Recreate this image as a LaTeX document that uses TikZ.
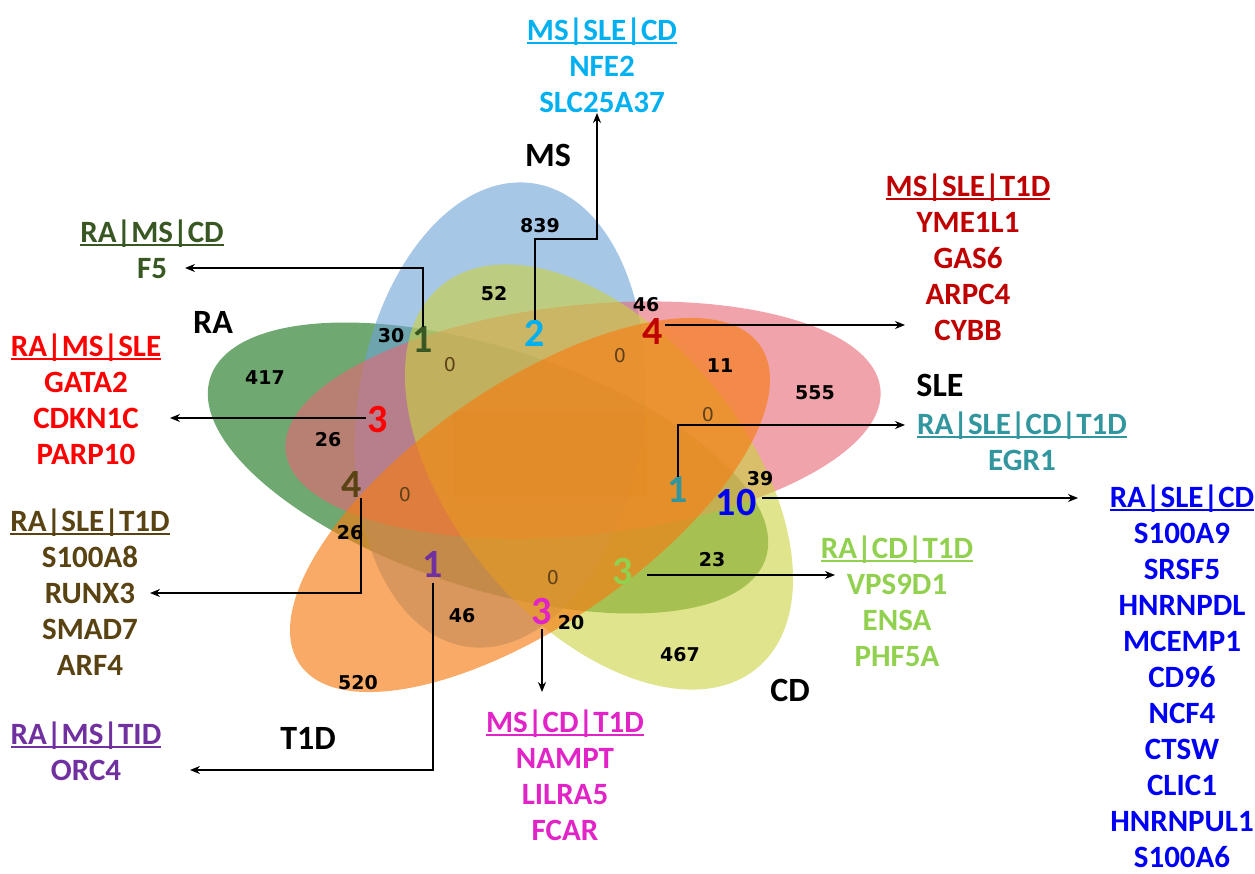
\documentclass[tikz,border=0pt]{standalone}
\usepackage{fontspec}
\setmainfont{Carlito}
\newfontfamily\cntfont{DejaVu Sans}
\usetikzlibrary{arrows.meta}

% set colours (fills) and text colours
\definecolor{raC}{RGB}{15,110,17}
\definecolor{msC}{RGB}{108,162,213}
\definecolor{sleC}{RGB}{232,102,117}
\definecolor{cdC}{RGB}{203,210,63}
\definecolor{t1dC}{RGB}{245,125,20}
\definecolor{coreC}{RGB}{232,132,20}
\definecolor{cyanC}{RGB}{0,176,240}
\definecolor{dredC}{RGB}{192,0,0}
\definecolor{dgreenC}{RGB}{56,87,35}
\definecolor{redC}{RGB}{255,0,0}
\definecolor{tealC}{RGB}{49,150,158}
\definecolor{blueC}{RGB}{0,0,245}
\definecolor{lgreenC}{RGB}{146,208,80}
\definecolor{brownC}{RGB}{89,67,18}
\definecolor{purpleC}{RGB}{112,48,160}
\definecolor{magentaC}{RGB}{225,35,200}
\definecolor{zeroC}{RGB}{95,65,25}

% underlined group heading with a fixed strut height
\newcommand\hdr[1]{\setbox0\hbox{#1}\rlap{\rule[-4pt]{\wd0}{1.9pt}}\rule{0pt}{23pt}\box0}

\begin{document}
\begin{tikzpicture}[x=1pt,y=-1pt,
  blob/.style={fill opacity=0.6},
  grp/.style={anchor=north, align=center, inner sep=0pt, font=\bfseries\fontsize{31}{36}\selectfont},
  setname/.style={inner sep=0pt, font=\bfseries\fontsize{34}{34}\selectfont},
  cnt/.style={inner sep=0pt, font=\cntfont\bfseries\fontsize{19}{19}\selectfont},
  nil/.style={inner sep=0pt, text=zeroC, font=\cntfont\fontsize{19}{19}\selectfont},
  hit/.style={inner sep=0pt, font=\bfseries\fontsize{40}{40}\selectfont},
  conn/.style={draw=black, line width=1.4pt, -{Stealth[length=10pt,width=8pt]}},
]
\useasboundingbox (0,0) rectangle (1255,874);

% the five sets
\fill[raC, blob, shift={(488,468)}, rotate=-18] (0,0) ellipse [x radius=292, y radius=120];
\fill[msC, blob, shift={(500,415)}, rotate=82] (0,0) ellipse [x radius=234, y radius=143];
\fill[sleC, blob, shift={(583,420)}, rotate=6] (0,0) ellipse [x radius=299, y radius=115];
\fill[cdC, blob, shift={(599,477)}, rotate=-50.4] (0,0) ellipse [x radius=248, y radius=146];
\fill[t1dC, fill opacity=0.65, shift={(530,505)}, rotate=34.7] (0,0) ellipse [x radius=280, y radius=119];
% faint patch in the common core
\fill[coreC, fill opacity=0.15] (453,412) rectangle (647,497);

% set names
\node[setname] (sMS)  at (548,155) {MS};
\node[setname] (sRA)  at (213,322) {RA};
\node[setname] (sSLE) at (940,385) {SLE};
\node[setname] (sCD)  at (790,690) {CD};
\node[setname] (sT1D) at (308,738) {T1D};

% region counts
\node[cnt] (c839) at (540,226) {839};
\node[cnt] (c52)  at (494,294) {52};
\node[cnt] (c46a) at (646,305) {46};
\node[cnt] (c30)  at (391,336) {30};
\node[cnt] (c417) at (265,378) {417};
\node[cnt] (c11)  at (720,366) {11};
\node[cnt] (c555) at (815,393) {555};
\node[cnt] (c26a) at (328,440) {26};
\node[cnt] (c26b) at (350,533) {26};
\node[cnt] (c39)  at (760,479) {39};
\node[cnt] (c23)  at (712,560) {23};
\node[cnt] (c46b) at (462,616) {46};
\node[cnt] (c20)  at (571,623) {20};
\node[cnt] (c520) at (358,683) {520};
\node[cnt] (c467) at (680,655) {467};
\node[nil] (z1) at (450,365) {0};
\node[nil] (z2) at (620,356) {0};
\node[nil] (z3) at (708,415) {0};
\node[nil] (z4) at (405,495) {0};
\node[nil] (z5) at (553,578) {0};

% highlighted intersections
\node[hit, text=dgreenC]  (k1)  at (423,340) {1};
\node[hit, text=cyanC]    (k2)  at (535,333) {2};
\node[hit, text=dredC]    (k3)  at (653,332) {4};
\node[hit, text=redC]     (k4)  at (378,420) {3};
\node[hit, text=tealC]    (k5)  at (678,490) {1};
\node[hit, text=blueC]    (k6)  at (736,503) {10};
\node[hit, text=lgreenC]  (k7)  at (623,572) {3};
\node[hit, text=brownC]   (k8)  at (352,485) {4};
\node[hit, text=purpleC]  (k9)  at (433,565) {1};
\node[hit, text=magentaC] (k10) at (542,612) {3};

% gene lists
\node[grp, text=cyanC]    (gMSC)  at (602,17)  {\hdr{MS|SLE|CD}\\NFE2\\SLC25A37};
\node[grp, text=dredC]    (gMST)  at (968,173) {\hdr{MS|SLE|T1D}\\YME1L1\\GAS6\\ARPC4\\CYBB};
\node[grp, text=dgreenC]  (gRMC)  at (152,219) {\hdr{RA|MS|CD}\\F5};
\node[grp, text=redC]     (gRMS)  at (86,333)  {\hdr{RA|MS|SLE}\\GATA2\\CDKN1C\\PARP10};
\node[grp, text=brownC]   (gRST)  at (90,508)  {\hdr{RA|SLE|T1D}\\S100A8\\RUNX3\\SMAD7\\ARF4};
\node[grp, text=purpleC]  (gRMT)  at (86,721)  {\hdr{RA|MS|TID}\\ORC4};
\node[grp, text=tealC]    (gRSCT) at (1022,411) {\hdr{RA|SLE|CD|T1D}\\EGR1};
\node[grp, text=blueC]    (gRSC)  at (1182,484) {\hdr{RA|SLE|CD}\\S100A9\\SRSF5\\HNRNPDL\\MCEMP1\\CD96\\NCF4\\CTSW\\CLIC1\\HNRNPUL1\\S100A6};
\node[grp, text=lgreenC]  (gRCT)  at (897,535) {\hdr{RA|CD|T1D}\\VPS9D1\\ENSA\\PHF5A};
\node[grp, text=magentaC] (gMCT)  at (565,709) {\hdr{MS|CD|T1D}\\NAMPT\\LILRA5\\FCAR};

% arrow tips and bends
\coordinate (tF5)   at (185,268);
\coordinate (b2)    at (597,239);
\coordinate (tNFE)  at (597,113);
\coordinate (tCYBB) at (905,325);
\coordinate (tCDK)  at (170,418);
\coordinate (tEGR)  at (905,425);
\coordinate (tS9)   at (1078,498);
\coordinate (tVPS)  at (835,575);
\coordinate (b8)    at (361,593);
\coordinate (tRUN)  at (150,593);
\coordinate (tORC)  at (190,770);
\coordinate (tNAM)  at (542,692);

% connectors
\draw[conn] (k1.north) |- (tF5);
\draw[conn] (k2.north) |- (b2) -- (tNFE);
\draw[conn] ([xshift=2pt]k3.east |- tCYBB) -- (tCYBB);
\draw[conn] ([xshift=-2pt]k4.west |- tCDK) -- (tCDK);
\draw[conn] (k5.north) |- (tEGR);
\draw[conn] ([xshift=6pt]k6.east |- tS9) -- (tS9);
\draw[conn] ([xshift=14pt]k7.east |- tVPS) -- (tVPS);
\draw[conn] (k8.south -| b8) -- (b8) -- (tRUN);
\draw[conn] ([yshift=-5pt]k9.south) |- (tORC);
\draw[conn] ([yshift=-4pt]k10.south) -- (tNAM);
\end{tikzpicture}
\end{document}
